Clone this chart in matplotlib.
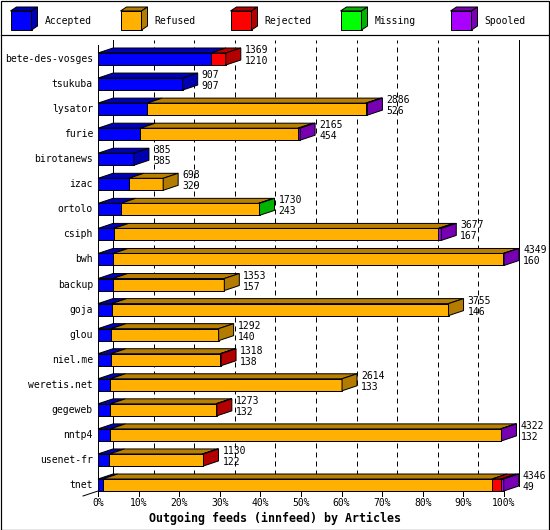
import matplotlib
matplotlib.use("Agg")
import matplotlib.pyplot as plt
from matplotlib.patches import Polygon, Rectangle
from matplotlib.colors import to_rgb

feeds = ["bete-des-vosges", "tsukuba", "lysator", "furie", "birotanews", "izac",
         "ortolo", "csiph", "bwh", "backup", "goja", "glou", "niel.me",
         "weretis.net", "gegeweb", "nntp4", "usenet-fr", "tnet"]
totals = [1369, 907, 2886, 2165, 385, 698, 1730, 3677, 4349, 1353, 3755, 1292,
          1318, 2614, 1273, 4322, 1130, 4346]
accepted = [1210, 907, 526, 454, 385, 329, 243, 167, 160, 157, 146, 140, 138,
            133, 132, 132, 122, 49]
refused = [0, 0, 2344, 1690, 0, 369, 1477, 3480, 4180, 1196, 3609, 1152, 1170,
           2481, 1131, 4180, 998, 4171]
rejected = [159, 0, 0, 0, 0, 0, 0, 0, 0, 0, 0, 0, 10, 0, 10, 0, 10, 97]
missing = [0, 0, 10, 0, 0, 0, 10, 0, 0, 0, 0, 0, 0, 0, 0, 0, 0, 0]
spooled = [0, 0, 6, 21, 0, 0, 0, 30, 9, 0, 0, 0, 0, 0, 0, 10, 0, 29]

series_names = ["Accepted", "Refused", "Rejected", "Missing", "Spooled"]
series_colors = ["#0000ff", "#ffb000", "#ff0000", "#00ff00", "#aa00ff"]
tick_values = [0, 10, 20, 30, 40, 50, 60, 70, 80, 90, 100]
title = "Outgoing feeds (innfeed) by Articles"

# pixel layout
W, H = 550, 530
X0_PX = 98
PX_PER_PCT = 4.06
ROW0_PX = 59
ROW_PX = 25.06
LW = 0.72  # one pixel in points

DX = 15 / PX_PER_PCT
DY = 5 / ROW_PX
HALF = 6 / ROW_PX


def px(x, y):
    return (x - X0_PX) / PX_PER_PCT, (y - ROW0_PX) / ROW_PX


def dark(c, f=0.7):
    r, g, b = to_rgb(c)
    return (r * f, g * f, b * f)


fig = plt.figure(figsize=(W / 100, H / 100), dpi=100)
fig.patch.set_facecolor("white")
ax = fig.add_axes([0, 0, 1, 1])
ax.set_xlim(px(0, 0)[0], px(W, 0)[0])
ax.set_ylim(px(0, H)[1], px(0, 0)[1])
ax.axis("off")

mono = "DejaVu Sans Mono"
fs = 7

# frame and legend separator
x_a, y_a = px(0.5, 0.5)
x_b, y_b = px(549.5, 529.5)
ax.add_patch(Rectangle((x_a, y_a), x_b - x_a, y_b - y_a, fill=False,
                       lw=LW * 1.2, ec="black", clip_on=False))
ax.plot([x_a, x_b], [px(0, 35)[1]] * 2, color="black", lw=LW * 1.2)

# legend cubes
for k, (name, col) in enumerate(zip(series_names, series_colors)):
    lx = 10.5 + k * 110
    x1, y1 = px(lx, 11)
    x2, y2 = px(lx + 21, 30)
    ddx, ddy = 6 / PX_PER_PCT, 4 / ROW_PX
    ax.add_patch(Rectangle((x1, y1), x2 - x1, y2 - y1, fc=col, ec="black", lw=LW, zorder=5))
    ax.add_patch(Polygon([(x1, y1), (x2, y1), (x2 + ddx, y1 - ddy), (x1 + ddx, y1 - ddy)],
                         closed=True, fc=dark(col), ec="black", lw=LW, zorder=5))
    ax.add_patch(Polygon([(x2, y1), (x2, y2), (x2 + ddx, y2 - ddy), (x2 + ddx, y1 - ddy)],
                         closed=True, fc=dark(col), ec="black", lw=LW, zorder=5))
    tx, ty = px(lx + 34, 21)
    ax.text(tx, ty, name, family=mono, fontsize=fs, ha="left", va="center")

# walls and grid
top_back = px(0, 40)[1]
bot_back = px(0, 486)[1]
ax.plot([0, 0], [px(0, 45)[1], px(0, 491)[1]], color="black", lw=LW, zorder=2)
ax.plot([DX, DX], [top_back, bot_back], color="black", lw=LW, zorder=1)
ax.plot([100 + DX, 100 + DX], [top_back, bot_back], color="black", lw=LW, zorder=1)
for t in tick_values[1:-1]:
    ax.plot([t + DX, t + DX], [top_back, bot_back], color="black", lw=LW,
            linestyle=(2, (5, 4)), zorder=1)
fx0, fy0 = px(83, 496)
ax.plot([fx0, 0], [fy0, px(0, 491)[1]], color="black", lw=LW, zorder=2)

for t in tick_values:
    ax.plot([t, t], [px(0, 491)[1], px(0, 496)[1]], color="black", lw=LW)
    ax.text(t, px(0, 503)[1], f"{t}%", family=mono, fontsize=fs, ha="center", va="center")

ax.text(px(275, 0)[0], px(0, 518)[1], title, family=mono, fontsize=8.4,
        fontweight="bold", ha="center", va="center")

# bars
scale = 100 / max(totals)
for i, name in enumerate(feeds):
    segs = [accepted[i], refused[i], rejected[i], missing[i], spooled[i]]
    ytop, ybot = i - HALF, i + HALF
    start = 0.0
    last_col = series_colors[0]
    z = 3 + i
    for v, col in zip(segs, series_colors):
        if v <= 0:
            continue
        x0 = start
        x1 = start + v * scale
        ax.add_patch(Rectangle((x0, ytop), x1 - x0, ybot - ytop, fc=col, ec="black",
                               lw=LW, zorder=z))
        ax.add_patch(Polygon([(x0, ytop), (x1, ytop), (x1 + DX, ytop - DY), (x0 + DX, ytop - DY)],
                             closed=True, fc=dark(col, 0.72), ec="black", lw=LW, zorder=z))
        start = x1
        last_col = col
    ax.add_patch(Polygon([(start, ytop), (start, ybot), (start + DX, ybot - DY), (start + DX, ytop - DY)],
                         closed=True, fc=dark(last_col), ec="black", lw=LW, zorder=z))

    ax.text(px(93, 0)[0], i, name, family=mono, fontsize=fs, ha="right", va="center")
    nx = start + DX + 4 / PX_PER_PCT
    ax.text(nx, i - 9 / ROW_PX, str(totals[i]), family=mono, fontsize=fs,
            ha="left", va="center", zorder=20)
    ax.text(nx, i + 2 / ROW_PX, str(accepted[i]), family=mono, fontsize=fs,
            ha="left", va="center", zorder=20)

fig.savefig("out.png", dpi=100)
plt.close("all")
